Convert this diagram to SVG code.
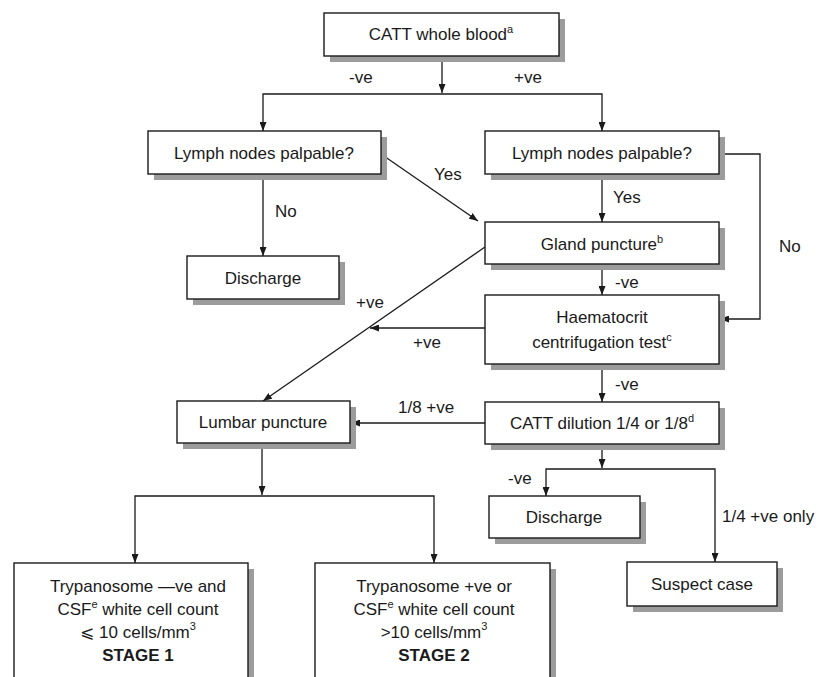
<svg xmlns="http://www.w3.org/2000/svg" width="828" height="677" viewBox="0 0 828 677">
<style>
.sh{fill:#9c9c9c;stroke:none}
.bx{fill:#fff;stroke:#1a1a1a;stroke-width:1.4}
.t{font-family:"Liberation Sans",Arial,"DejaVu Sans",sans-serif;font-size:17px;fill:#1a1a1a;text-anchor:middle}
.l{font-family:"Liberation Sans",Arial,"DejaVu Sans",sans-serif;font-size:17px;fill:#1a1a1a}
.b{font-weight:bold}
.sup{font-size:11px}
.c{fill:none;stroke:#1a1a1a;stroke-width:1.3}
</style>
<defs>
<marker id="ah" viewBox="0 0 9 7" refX="9" refY="3.5" markerWidth="9" markerHeight="7" markerUnits="userSpaceOnUse" orient="auto">
<path d="M0,0 L9,3.5 L0,7 z" fill="#1a1a1a"/>
</marker>
</defs>
<rect width="828" height="677" fill="#fff"/>

<g id="connectors">
<path class="c" d="M442,56 V93" marker-end="url(#ah)"/>
<path class="c" d="M442,94 H263 V131" marker-end="url(#ah)"/>
<path class="c" d="M442,94 H602 V131" marker-end="url(#ah)"/>
<path class="c" d="M263,174 V256" marker-end="url(#ah)"/>
<path class="c" d="M381,154 L478,221" marker-end="url(#ah)"/>
<path class="c" d="M602,174 V222" marker-end="url(#ah)"/>
<path class="c" d="M719,154 H760 V319 H720" marker-end="url(#ah)"/>
<path class="c" d="M602,264 V295" marker-end="url(#ah)"/>
<path class="c" d="M485,328 H370" marker-end="url(#ah)"/>
<path class="c" d="M485,247 L263,401" marker-end="url(#ah)"/>
<path class="c" d="M602,364 V402" marker-end="url(#ah)"/>
<path class="c" d="M485,423 H351" marker-end="url(#ah)"/>
<path class="c" d="M602,444 V468" marker-end="url(#ah)"/>
<path class="c" d="M602,469 H546 V496" marker-end="url(#ah)"/>
<path class="c" d="M602,469 H715 V562" marker-end="url(#ah)"/>
<path class="c" d="M262,443 V495" marker-end="url(#ah)"/>
<path class="c" d="M262,496 H135 V563" marker-end="url(#ah)"/>
<path class="c" d="M262,496 H434 V563" marker-end="url(#ah)"/>
</g>

<g id="edge-labels">
<text class="l" x="349" y="83">-ve</text>
<text class="l" x="514" y="83">+ve</text>
<text class="l" x="275" y="217">No</text>
<text class="l" x="434" y="180">Yes</text>
<text class="l" x="613" y="203">Yes</text>
<text class="l" x="779" y="252">No</text>
<text class="l" x="615" y="288">-ve</text>
<text class="l" x="356" y="308">+ve</text>
<text class="l" x="413" y="348">+ve</text>
<text class="l" x="615" y="390">-ve</text>
<text class="l" x="398" y="413">1/8 +ve</text>
<text class="l" x="508" y="484">-ve</text>
<text class="l" x="722" y="522">1/4 +ve only</text>
</g>

<g id="catt-whole-blood">
<rect class="sh" x="330" y="19" width="235" height="43"/>
<rect class="bx" x="324" y="13" width="235" height="43"/>
<text class="t" x="441" y="40">CATT whole blood<tspan class="sup" dy="-7">a</tspan></text>
</g>

<g id="lymph-left">
<rect class="sh" x="154" y="137" width="233" height="43"/>
<rect class="bx" x="148" y="131" width="233" height="43"/>
<text class="t" x="264" y="159">Lymph nodes palpable?</text>
</g>

<g id="lymph-right">
<rect class="sh" x="491" y="137" width="234" height="43"/>
<rect class="bx" x="485" y="131" width="234" height="43"/>
<text class="t" x="602" y="159">Lymph nodes palpable?</text>
</g>

<g id="discharge-1">
<rect class="sh" x="193" y="262" width="152" height="43"/>
<rect class="bx" x="187" y="256" width="152" height="43"/>
<text class="t" x="263" y="284">Discharge</text>
</g>

<g id="gland-puncture">
<rect class="sh" x="491" y="228" width="234" height="42"/>
<rect class="bx" x="485" y="222" width="234" height="42"/>
<text class="t" x="602" y="250">Gland puncture<tspan class="sup" dy="-7">b</tspan></text>
</g>

<g id="haematocrit">
<rect class="sh" x="491" y="301" width="234" height="69"/>
<rect class="bx" x="485" y="295" width="234" height="69"/>
<text class="t" x="602" y="323">Haematocrit</text>
<text class="t" x="602" y="348">centrifugation test<tspan class="sup" dy="-7">c</tspan></text>
</g>

<g id="lumbar-puncture">
<rect class="sh" x="183" y="407" width="173" height="42"/>
<rect class="bx" x="177" y="401" width="173" height="42"/>
<text class="t" x="263" y="428">Lumbar puncture</text>
</g>

<g id="catt-dilution">
<rect class="sh" x="491" y="408" width="234" height="42"/>
<rect class="bx" x="485" y="402" width="234" height="42"/>
<text class="t" x="602" y="429">CATT dilution 1/4 or 1/8<tspan class="sup" dy="-7">d</tspan></text>
</g>

<g id="discharge-2">
<rect class="sh" x="495" y="502" width="151" height="42"/>
<rect class="bx" x="489" y="496" width="151" height="42"/>
<text class="t" x="564" y="523">Discharge</text>
</g>

<g id="suspect-case">
<rect class="sh" x="633" y="568" width="150" height="44"/>
<rect class="bx" x="627" y="562" width="150" height="44"/>
<text class="t" x="702" y="590">Suspect case</text>
</g>

<g id="stage-1">
<rect class="sh" x="20" y="569" width="234" height="130"/>
<rect class="bx" x="14" y="563" width="234" height="130"/>
<text class="t" x="138" y="592">Trypanosome —ve and</text>
<text class="t" x="138" y="615">CSF<tspan class="sup" dy="-7">e</tspan><tspan dy="7"> white cell count</tspan></text>
<text class="t" x="138" y="638">⩽ 10 cells/mm<tspan class="sup" dy="-8">3</tspan></text>
<text class="t b" x="138" y="661">STAGE 1</text>
</g>

<g id="stage-2">
<rect class="sh" x="321" y="569" width="235" height="130"/>
<rect class="bx" x="315" y="563" width="235" height="130"/>
<text class="t" x="434" y="592">Trypanosome +ve or</text>
<text class="t" x="434" y="615">CSF<tspan class="sup" dy="-7">e</tspan><tspan dy="7"> white cell count</tspan></text>
<text class="t" x="434" y="638">&gt;10 cells/mm<tspan class="sup" dy="-8">3</tspan></text>
<text class="t b" x="434" y="661">STAGE 2</text>
</g>
</svg>
